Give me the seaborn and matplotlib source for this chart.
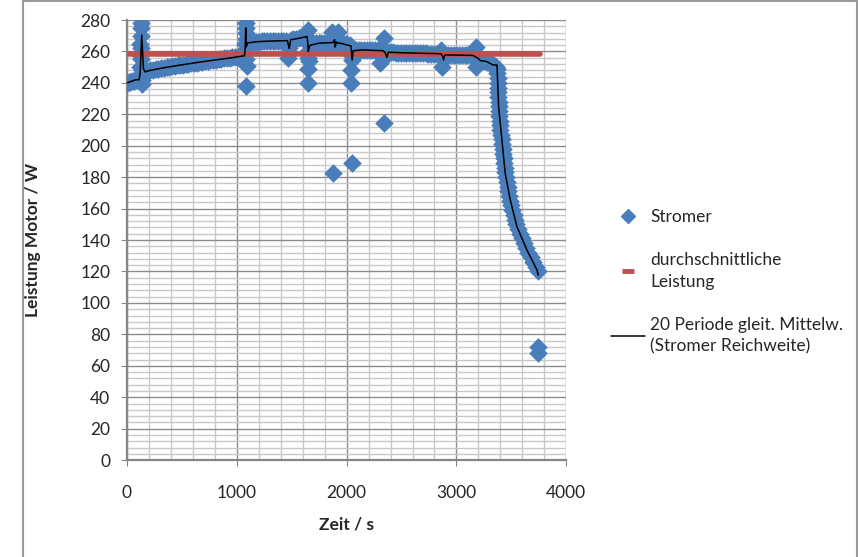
import numpy as np
import pandas as pd
import seaborn as sns
import matplotlib.pyplot as plt
from matplotlib.lines import Line2D
from matplotlib.patches import Rectangle
from matplotlib.ticker import MultipleLocator

#################
## Data values ##
#################

# Stromer power readings (time in s, power in W)
band_x = [0, 15, 30, 45, 60, 75, 90, 105, 110,
          160, 185, 210, 235, 260, 285, 310, 335, 360, 385, 410, 435, 460, 485,
          510, 535, 560, 585, 610, 635, 660, 685, 710, 735, 760, 785, 810, 835,
          860, 885, 910, 935, 960, 985, 1010, 1035, 1060,
          1100, 1125, 1150, 1175, 1200, 1225, 1250, 1275, 1300, 1325, 1350,
          1375, 1400, 1425, 1450,
          1490, 1515, 1540, 1565, 1590, 1615, 1640,
          1670, 1695, 1720, 1745, 1770, 1795, 1820, 1845, 1865,
          1940, 1965, 1990, 2015, 2030,
          2060, 2085, 2110, 2135, 2160, 2185, 2210, 2235, 2260, 2285, 2310,
          2370, 2395, 2420, 2445, 2470, 2495, 2520, 2545, 2570, 2595, 2620,
          2645, 2670, 2695, 2720, 2745, 2770, 2795, 2820, 2845,
          2900, 2925, 2950, 2975, 3000, 3025, 3050, 3075, 3100, 3125, 3150,
          3200, 3216, 3235, 3250, 3265, 3277, 3290, 3305, 3320, 3335, 3350,
          3360, 3370,
          3373, 3375, 3377, 3379, 3380, 3382, 3383, 3384, 3387, 3390, 3393,
          3396, 3399, 3405, 3413, 3418, 3422, 3426, 3430, 3435, 3440, 3444,
          3450, 3458, 3465, 3472, 3480, 3490, 3500, 3510, 3520, 3532, 3545,
          3562, 3578, 3596, 3614, 3632, 3655, 3678, 3700, 3720, 3742]
band_y = [240, 240.3, 240.7, 241, 241.5, 241.8, 242, 242, 242,
          247, 247.5, 247.9, 248.3, 248.7, 249, 249.3, 249.6, 249.9, 250.2,
          250.5, 250.8, 251.1, 251.4, 251.6, 251.9, 252.1, 252.4, 252.7, 252.9,
          253.2, 253.5, 253.7, 254, 254.3, 254.6, 254.8, 255.1, 255.3, 255.6,
          255.8, 256, 256.3, 256.5, 256.7, 257, 257.2,
          265.5, 265.8, 266, 266.2, 266.3, 266.4, 266.5, 266.5, 266.6, 266.6,
          266.7, 266.7, 266.8, 266.8, 266.9,
          267.5, 267.8, 268.1, 268.4, 268.7, 269, 269.5,
          264, 265, 265.2, 265.3, 265.4, 265.5, 265.5, 265.6, 265.6,
          265.2, 265, 264.7, 264.4, 264.2,
          261, 261, 261, 261, 260.9, 260.9, 260.8, 260.8, 260.7, 260.7, 260.6,
          259.5, 259.4, 259.4, 259.3, 259.3, 259.2, 259.2, 259.1, 259.1, 259,
          259, 258.9, 258.9, 258.8, 258.8, 258.7, 258.7, 258.7, 258.6, 258.6,
          257.8, 257.8, 257.7, 257.7, 257.7, 257.6, 257.6, 257.6, 257.5, 257.5,
          257.5,
          255, 254.2, 254, 253.8, 253.7, 253.6, 253, 252.4, 251.9, 251.3, 250.5,
          250, 249,
          246, 243, 240, 237, 234, 231, 228, 225, 222, 219, 216,
          213, 210, 207, 204, 201, 198, 195, 192, 189, 186, 183,
          180, 177, 174, 171, 168, 165, 162, 159, 156, 153, 150,
          147, 144, 141, 138, 135, 132, 129, 126, 123, 120]

# spikes, dips and stray readings away from the main trace
spike_x = [118, 120, 122, 124, 126, 128, 130, 132, 134, 136, 138, 140, 145, 150,
           1075, 1078, 1080, 1082, 1084, 1086, 1088, 1090, 1085, 1092,
           1470, 1475, 1648, 1652, 1650, 1650, 1650, 1660,
           1870, 1900, 1925, 1895, 1880,
           2043, 2043, 2043, 2048, 2045,
           2305, 2340, 2350, 2340,
           2860, 2870, 2880, 3177, 3180,
           3740, 3740]
spike_y = [250, 258, 265, 270, 278, 275, 262, 255, 248, 242, 239, 245, 250, 247,
           258, 265, 272, 278, 275, 268, 255, 251, 238, 262,
           256, 262, 273.6, 260, 255.6, 249, 239.7, 254,
           272.6, 270, 272.6, 262.8, 182.4,
           258, 248, 239.7, 254.6, 188.8,
           252.4, 268.3, 256.2, 214.7,
           261, 250.3, 254.6, 263, 250.3,
           72, 68]

# average power
avg_x = [0, 3760]
avg_y = [258.5, 258.5]

# 20 period moving average (trend line)
ma_x = [0, 40, 80, 110, 120, 134, 150, 164, 200, 300, 400, 500, 600, 700,
        800, 900, 1000, 1070, 1076, 1081, 1086, 1100, 1200, 1300, 1400, 1460,
        1470, 1478, 1490, 1550, 1640, 1645, 1651, 1660, 1670, 1750, 1850,
        1880, 1890, 1896, 1905, 1920, 1960, 2001, 2040, 2050, 2060, 2150,
        2250, 2330, 2350, 2366, 2380, 2500, 2650, 2800, 2860, 2875, 2882,
        2895, 3000, 3150, 3200, 3216, 3277, 3332, 3369, 3384, 3414, 3444,
        3490, 3551, 3642, 3733, 3745]
ma_y = [240, 241, 242, 242, 246, 270.5, 249, 247, 247.8, 249.2, 250.4, 251.5,
        252.6, 253.6, 254.6, 255.5, 256.5, 257.3, 262, 275, 263, 265.5, 266.3,
        266.6, 266.8, 266.9, 264, 262, 267.5, 268.2, 269.5, 266, 260, 263, 264,
        265.3, 265.6, 265.8, 267.5, 262.8, 266, 265.4, 265, 264.2, 263.5, 254.6,
        260.5, 261, 260.7, 260.5, 259.5, 256.2, 259.5, 259.2, 258.9, 258.7,
        258.5, 257, 254.6, 257.8, 257.7, 257.5, 255.5, 254.2, 253.6, 251.4,
        251.4, 224.8, 203.6, 182.4, 165.5, 148.5, 133.6, 121, 117.7]

stromer = pd.DataFrame({'x': band_x + spike_x, 'y': band_y + spike_y})
avg = pd.DataFrame({'x': avg_x, 'y': avg_y})
ma = pd.DataFrame({'x': ma_x, 'y': ma_y})

##############
## Plotting ##
##############

sns.set_style('white')
plt.rcParams['font.family'] = ['Lato', 'DejaVu Sans']
fs = 12.5

fig = plt.figure(figsize=(8.58, 5.57), dpi=100)
ax = fig.add_axes([0.148, 0.174, 0.512, 0.790])

blue = '#4A7EBB'
red = '#C0504D'

sns.scatterplot(data=stromer, x='x', y='y', marker='D', s=90, color=blue,
                linewidth=0, ax=ax, zorder=3)
sns.lineplot(data=avg, x='x', y='y', color=red, linewidth=4, ax=ax,
             estimator=None, zorder=4)
sns.lineplot(data=ma, x='x', y='y', color='black', linewidth=1.1, ax=ax,
             estimator=None, sort=False, zorder=5)

ax.set_xlim(0, 4000)
ax.set_ylim(0, 280)
ax.xaxis.set_major_locator(MultipleLocator(1000))
ax.xaxis.set_minor_locator(MultipleLocator(200))
ax.yaxis.set_major_locator(MultipleLocator(20))
ax.yaxis.set_minor_locator(MultipleLocator(4))

ax.grid(which='major', color='#8C8C8C', linewidth=1.0, zorder=0)
ax.grid(which='minor', color='#C8C8C8', linewidth=1.0, zorder=0)
ax.set_axisbelow(True)

for side in ['top', 'right']:
    ax.spines[side].set_visible(False)
for side in ['left', 'bottom']:
    ax.spines[side].set_color('#868686')
    ax.spines[side].set_linewidth(1.6)

ax.tick_params(which='major', direction='out', length=4, color='#868686',
               labelsize=fs, left=True, bottom=True)
ax.tick_params(axis='x', pad=14)
ax.tick_params(axis='y', pad=8)
ax.tick_params(which='minor', length=0)

ax.set_xlabel('Zeit / s', fontsize=fs, fontweight='bold', labelpad=11)
ax.set_ylabel('Leistung Motor / W', fontsize=fs, fontweight='bold', labelpad=28)

handles = [
    Line2D([], [], marker='D', markersize=6.8, color=blue, linestyle='none'),
    Line2D([], [], marker='_', markersize=9, markeredgewidth=3.5, color=red,
           linestyle='none'),
    Line2D([], [], color='black', linewidth=1.1),
]
labels = ['Stromer', 'durchschnittliche\nLeistung',
          '20 Periode gleit. Mittelw.\n(Stromer Reichweite)']
leg = fig.legend(handles, labels, loc='upper left', bbox_to_anchor=(0.694, 0.653),
                 frameon=False, fontsize=fs, handlelength=1.95, handletextpad=0.3,
                 labelspacing=1.55)
for t in leg.get_texts():
    t.set_linespacing(1.45)

# outer chart border
fig.patches.append(Rectangle((23 / 858, -0.02), 834 / 858, 1.018,
                             transform=fig.transFigure, fill=False,
                             edgecolor='#9A9A9A', linewidth=1.5))

plt.savefig('out.png', dpi=100)
plt.close()
